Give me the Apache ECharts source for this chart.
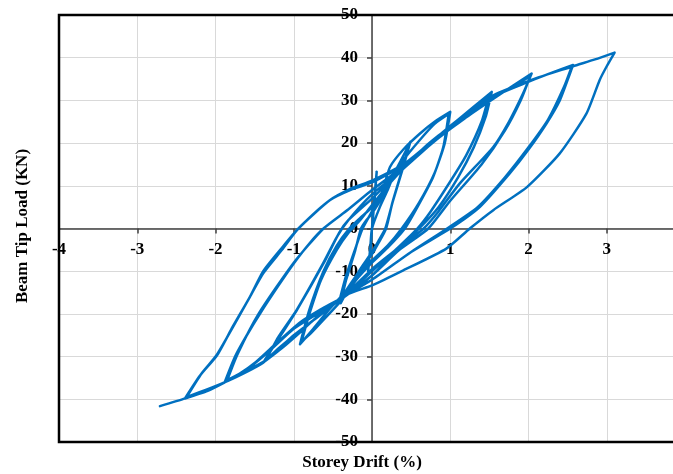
<!DOCTYPE html>
<html>
<head>
<meta charset="utf-8">
<script src="https://cdn.jsdelivr.net/npm/echarts@6/dist/echarts.min.js"></script>
<style>
html,body{margin:0;padding:0;background:#fff;}
#chart{width:673px;height:474px;}
</style>
</head>
<body>
<div id="chart"></div>
<script>
// Storey drift (%) vs beam tip load (kN), traced in loading order
const initialCycle = [[0,0],[0.02,5],[0.06,13.3],[0.03,6],[0,0],[-0.02,-5],[-0.05,-10],[-0.02,-4],[0,0]];
const cycle05 = [[0.1,5],[0.2,9],[0.3,13.5],[0.4,17],[0.49,20.3],
  [0.4,14.4],[0.27,6.6],[0.17,0],[0.08,-3],[0,-5.5],[-0.15,-9.5],[-0.3,-14],[-0.4,-17.5],
  [-0.33,-12],[-0.22,-5.5],[-0.14,0],[-0.07,2],[0,3.5],[0.15,8],[0.3,13.5],[0.48,19.8],
  [0.39,14],[0.26,6],[0.18,0],[0.08,-3.5],[0,-6],[-0.15,-10],[-0.3,-14.5],[-0.42,-17.2],
  [-0.33,-11],[-0.2,-4],[-0.12,0],[0,4]];
const cycle10 = [[0.12,8],[0.23,14.4],[0.4,18.5],[0.61,22.2],[0.8,25],[1.0,27.3],
  [0.93,20],[0.8,13],[0.6,6],[0.38,0],[0.2,-4],[0,-7.5],[-0.2,-11],[-0.35,-15],[-0.55,-19],[-0.75,-23.5],[-0.92,-27.1],
  [-0.8,-19],[-0.62,-10],[-0.45,-4],[-0.29,0],[-0.15,2.5],[0,5],[0.2,10.5],[0.4,16],[0.6,20.5],[0.8,24.5],[0.98,26.8],
  [0.91,19],[0.78,12],[0.58,5],[0.42,0],[0.2,-4.5],[0,-8],[-0.2,-12],[-0.4,-17],[-0.6,-21],[-0.78,-24.5],[-0.9,-26.5],
  [-0.8,-20],[-0.65,-12],[-0.45,-5],[-0.3,-1]];
const cycle15 = [[-0.15,2],[0,5.5],[0.2,10],[0.45,15],[0.7,19.5],[0.9,22.5],[1.1,25.5],[1.3,28.5],[1.53,32],
  [1.45,26],[1.3,19],[1.1,12],[0.85,5],[0.6,0],[0.3,-5],[0,-9.5],[-0.32,-15.2],[-0.5,-18],[-0.75,-21.5],[-1.0,-25],[-1.2,-28.3],[-1.37,-30.8],
  [-1.2,-26],[-0.96,-19.1],[-0.62,-8.2],[-0.42,-1],[-0.3,2],[0,7],[0.3,12.5],[0.6,17.5],[0.9,22],[1.2,26.5],[1.5,31.5],
  [1.4,25],[1.2,17],[1.0,11],[0.75,4],[0.58,0],[0.3,-5],[0,-10],[-0.3,-15],[-0.6,-19],[-0.9,-24],[-1.15,-28],[-1.36,-31],
  [-1.2,-25.5],[-0.96,-19],[-0.62,-8],[-0.45,-2],[-0.3,2]];
const cycle20 = [[0,8],[0.4,14],[0.8,20.5],[1.2,26],[1.6,31],[2.04,36.3],
  [1.93,31.6],[1.75,25],[1.55,19.1],[1.12,10.5],[0.85,4],[0.66,0],[0.35,-4.5],[0,-11],[-0.32,-15.5],[-0.66,-19],[-0.92,-22],[-1.26,-27.5],[-1.5,-31.5],[-1.69,-34],[-1.88,-35.9],
  [-1.75,-30],[-1.6,-25],[-1.43,-19.9],[-1.2,-13.5],[-1.0,-8.2],[-0.8,-3.5],[-0.62,0],[-0.3,4.5],[0,9],[0.4,14.5],[0.87,21.5],[1.2,26],[1.51,30.5],[1.8,33.3],[2.02,35.6],
  [1.9,30],[1.7,23],[1.4,15],[1.0,6.5],[0.72,0],[0.35,-5],[0,-11],[-0.35,-16],[-0.7,-20],[-1.0,-23.5],[-1.3,-28.5],[-1.6,-33],[-1.85,-35.5],
  [-1.72,-29.5],[-1.45,-20],[-1.0,-8],[-0.62,0],[-0.3,4.5]];
const cycle25 = [[0,9],[0.44,15],[0.87,21.5],[1.51,30.5],[2.02,34.5],[2.3,36.5],[2.57,38.3],
  [2.53,36.3],[2.4,30],[2.23,24.6],[2.0,18.5],[1.76,12.9],[1.38,5.1],[1.0,0],[0.5,-5.5],[0,-12],[-0.32,-15.2],[-0.75,-21.5],[-1.17,-27.7],[-1.39,-31.2],[-1.69,-34.1],[-1.88,-36],[-2.1,-38],[-2.39,-39.8],
  [-2.2,-34.5],[-1.98,-29.7],[-1.78,-23],[-1.56,-16],[-1.39,-10],[-1.15,-4.5],[-0.94,0],[-0.54,6.6],[-0.25,9.2],[0,10.8],[0.44,15.2],[0.87,21.5],[1.51,30.5],[2.02,34.5],[2.3,36.5],[2.55,37.8],
  [2.45,33],[2.25,25.5],[2.0,19],[1.7,12],[1.35,5],[0.96,0],[0.5,-5.5],[0,-12],[-0.32,-15.5],[-0.75,-21.5],[-1.17,-27.7],[-1.39,-31.4],[-1.88,-36],[-2.37,-39.5],
  [-2.18,-34],[-1.98,-29.5],[-1.56,-16],[-1.39,-10.5],[-1.15,-5],[-0.94,0],[-0.54,6.6],[-0.25,9.5]];
const cycle30 = [[0,11.2],[0.44,15.5],[0.87,22],[1.51,30.8],[2.02,34.7],[2.57,38],[2.85,39.6],[3.1,41.2],
  [3.0,38],[2.91,34.8],[2.74,26.9],[2.4,17.6],[1.98,9.7],[1.55,4.3],[1.25,0],[0.95,-4.7],[0.4,-9.8],[0,-13.3],[-0.32,-15.5],[-0.75,-21.5],[-1.17,-27.7],[-1.39,-31.4],[-1.88,-36],[-2.39,-39.8],[-2.71,-41.6]];

const xTicks = {min: -4, max: 4, step: 1};
const yTicks = {min: -50, max: 50, step: 10};
const xTitle = 'Storey Drift (%)';
const yTitle = 'Beam Tip Load (KN)';

const loopData = [].concat(initialCycle, cycle05, cycle10, cycle15, cycle20, cycle25, cycle30);

const FONT = '"Liberation Serif", "Times New Roman", serif';
const W = 673, H = 474;
const gridLeft = 59, gridTop = 15, gridRight = -12, gridBottom = 32;
const plotW = W - gridLeft - gridRight, plotH = H - gridTop - gridBottom;
// place axis lines where the other axis is zero
const xAxisOffset = -plotH * (0 - yTicks.min) / (yTicks.max - yTicks.min);
const yAxisOffset = -plotW * (0 - xTicks.min) / (xTicks.max - xTicks.min);

const chart = echarts.init(document.getElementById('chart'), null, {renderer: 'canvas'});
chart.setOption({
  animation: false,
  backgroundColor: '#ffffff',
  grid: {left: gridLeft, top: gridTop, right: gridRight, bottom: gridBottom, containLabel: false, outerBoundsMode: 'none',
         show: false},
  xAxis: {
    type: 'value', min: xTicks.min, max: xTicks.max, interval: xTicks.step, position: 'bottom', offset: xAxisOffset,
    axisLine: {onZero: false, lineStyle: {color: '#404040', width: 1.5}},
    axisTick: {show: true, length: 5, lineStyle: {color: '#404040', width: 1.5}},
    axisLabel: {color: '#000', fontFamily: FONT, fontWeight: 'bold', fontSize: 17, margin: 13, showMaxLabel: true, showMinLabel: true},
    splitLine: {show: true, showMinLine: false, showMaxLine: false, lineStyle: {color: '#d9d9d9', width: 1}}
  },
  yAxis: {
    type: 'value', min: yTicks.min, max: yTicks.max, interval: yTicks.step, position: 'left', offset: yAxisOffset,
    axisLine: {onZero: false, lineStyle: {color: '#404040', width: 1.5}},
    axisTick: {show: true, length: 5, lineStyle: {color: '#404040', width: 1.5}},
    axisLabel: {color: '#000', fontFamily: FONT, fontWeight: 'bold', fontSize: 17, margin: 14, showMaxLabel: true, showMinLabel: true},
    splitLine: {show: true, showMinLine: false, showMaxLine: false, lineStyle: {color: '#d9d9d9', width: 1}}
  },
  graphic: [
    {type: 'rect', z: 100, silent: true, shape: {x: gridLeft, y: gridTop, width: plotW, height: plotH},
     style: {fill: 'none', stroke: '#000', lineWidth: 2.5}},
    {type: 'text', x: 362, y: 463, style: {text: xTitle, font: 'bold 17px ' + FONT, fill: '#000', textAlign: 'center', textVerticalAlign: 'middle'}},
    {type: 'text', x: 23, y: 226, rotation: Math.PI / 2, style: {text: yTitle, font: 'bold 17px ' + FONT, fill: '#000', textAlign: 'center', textVerticalAlign: 'middle'}}
  ],
  series: [{
    type: 'line', data: loopData, showSymbol: false, symbol: 'none', smooth: 0.2,
    lineStyle: {color: '#0070C0', width: 2.5, join: 'round', cap: 'round'},
    clip: false
  }]
});
</script>
</body>
</html>
